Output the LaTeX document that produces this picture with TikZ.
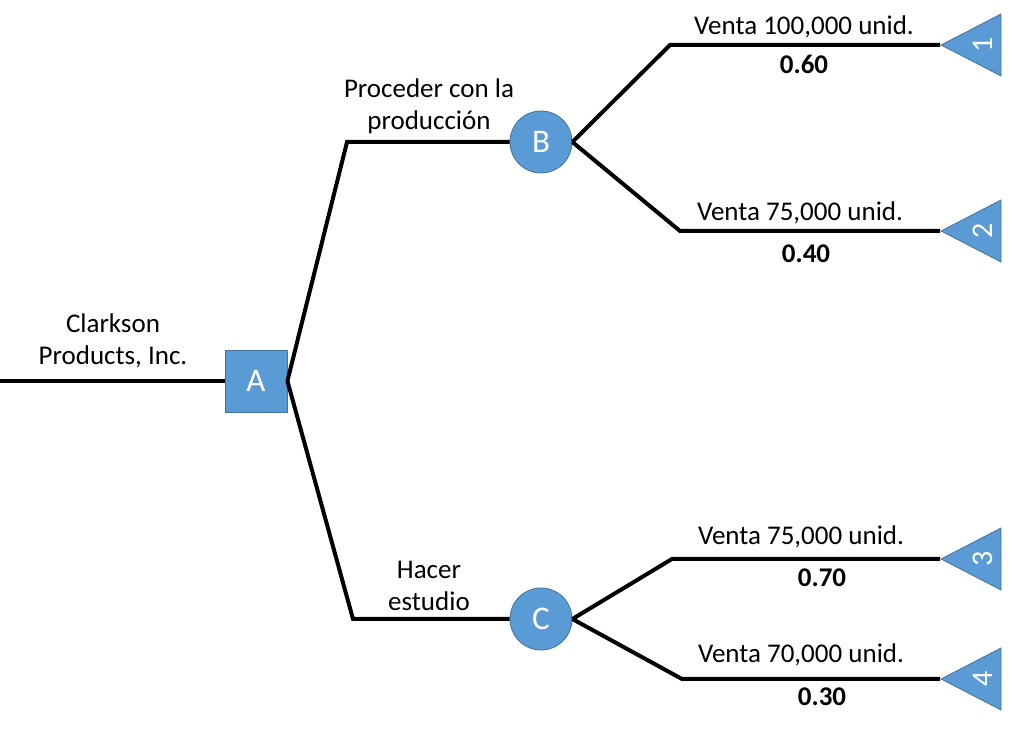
\documentclass[tikz,border=0pt]{standalone}
\usepackage{fontspec}
\setmainfont{Carlito}
\usetikzlibrary{shapes.geometric}
\definecolor{NodeBlue}{HTML}{5B9BD5}
\definecolor{NodeEdge}{HTML}{41719C}

\begin{document}
\begin{tikzpicture}[x=0.5pt,y=-0.5pt,
  branch/.style={line width=2pt},
  decision/.style={draw=NodeEdge,fill=NodeBlue,minimum size=31pt,inner sep=0pt,text=white,font=\fontsize{16.5}{18}\selectfont},
  chance/.style={circle,draw=NodeEdge,fill=NodeBlue,minimum size=31pt,inner sep=0pt,text=white,font=\fontsize{16.5}{18}\selectfont},
  ending/.style={isosceles triangle,isosceles triangle stretches,rotate=90,shape border rotate=90,
    minimum width=31pt,minimum height=30pt,inner sep=0pt,draw=NodeEdge,fill=NodeBlue,text=white,font=\fontsize{15}{16}\selectfont},
  lbl/.style={align=center,font=\fontsize{13.5}{16}\selectfont},
  prob/.style={font=\fontsize{13.5}{16}\selectfont\bfseries}]
  \useasboundingbox (0,0) rectangle (1024,731);

  \node (a) [decision] at (256,381) {A};
  \node (b) [chance] at (541,142) {B};
  \node (c) [chance] at (541,619) {C};
  \node (t1) [ending,anchor=apex] at (940,45) {1};
  \node (t2) [ending,anchor=apex] at (940,231) {2};
  \node (t3) [ending,anchor=apex] at (940,559) {3};
  \node (t4) [ending,anchor=apex] at (940,679) {4};

  \coordinate (start) at (0,381);
  \coordinate (kb) at (347,142);
  \coordinate (kc) at (353,619);
  \coordinate (k1) at (670,45);
  \coordinate (k2) at (680,231);
  \coordinate (k3) at (672,559);
  \coordinate (k4) at (682,679);

  \draw[branch] (start) -- (a);
  \draw[branch] (a.east) -- (kb) -- (b);
  \draw[branch] (a.east) -- (kc) -- (c);
  \draw[branch] (b.east) -- (k1) -- (t1.apex);
  \draw[branch] (b.east) -- (k2) -- (t2.apex);
  \draw[branch] (c.east) -- (k3) -- (t3.apex);
  \draw[branch] (c.east) -- (k4) -- (t4.apex);

  \node (lstart) [lbl] at (113,341) {Clarkson\\Products, Inc.};
  \node (lb) [lbl] at (429,106) {Proceder con la\\producción};
  \node (lc) [lbl] at (429,586) {Hacer\\estudio};

  \node (l1) [lbl] at (804,27) {Venta 100,000 unid.};
  \node (p1) [prob] at (804,64) {0.60};
  \node (l2) [lbl] at (800,213) {Venta 75,000 unid.};
  \node (p2) [prob] at (806,254) {0.40};
  \node (l3) [lbl] at (801,537) {Venta 75,000 unid.};
  \node (p3) [prob] at (822,578) {0.70};
  \node (l4) [lbl] at (801,655) {Venta 70,000 unid.};
  \node (p4) [prob] at (822,697) {0.30};
\end{tikzpicture}
\end{document}
